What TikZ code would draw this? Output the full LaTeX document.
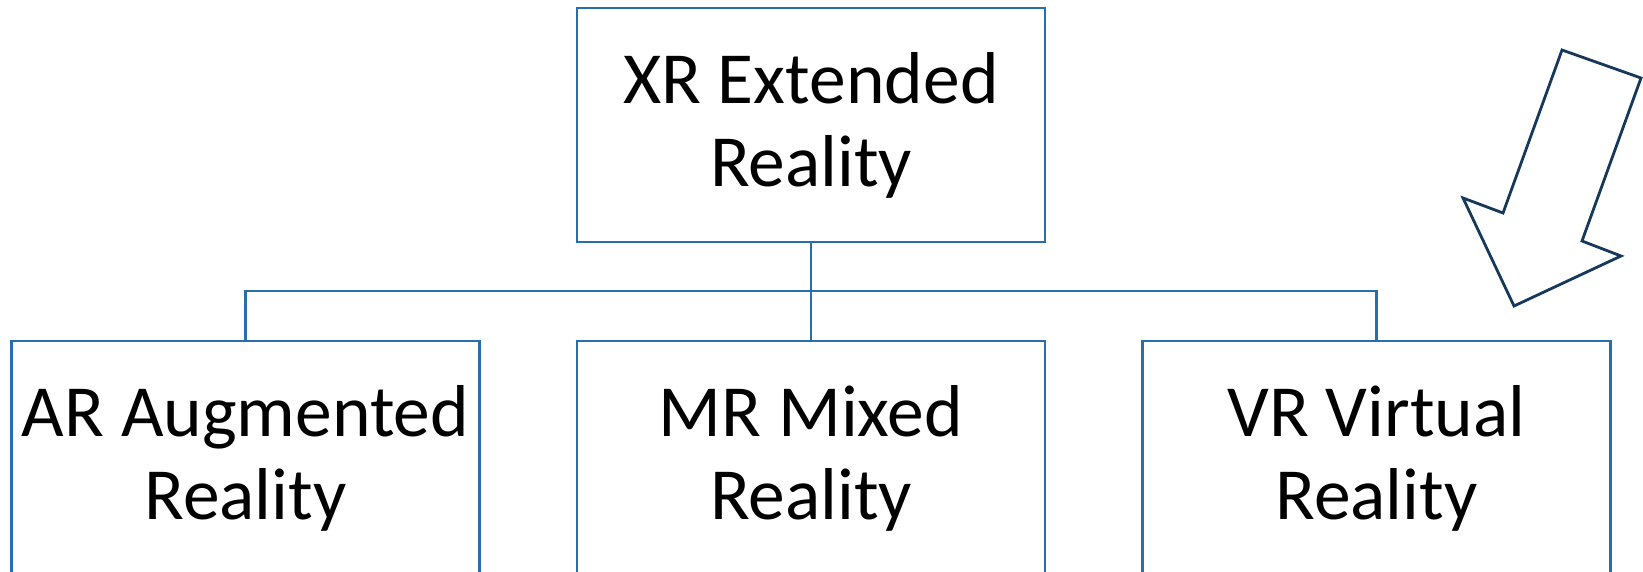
\documentclass[tikz,border=0pt]{standalone}
\usepackage{fontspec}
\setmainfont{Carlito}
\definecolor{boxblue}{RGB}{38,110,172}
\definecolor{arrownavy}{RGB}{22,56,90}
\begin{document}
\begin{tikzpicture}[x=1pt,y=-1pt,
    realitybox/.style={draw=boxblue,line width=2.8pt,minimum width=468pt,minimum height=234pt,
        align=center,font=\fontsize{73.5}{83}\selectfont,inner sep=0pt},
    tree/.style={draw=boxblue,line width=2.8pt}]
            \useasboundingbox (0,0) rectangle (1643,572);
            \clip (0,0) rectangle (1643,572);
            \node[realitybox] (xr) at (811,125) {XR Extended\\Reality};
            \node[realitybox] (ar) at (245.5,458) {AR Augmented\\Reality};
            \node[realitybox] (mr) at (811,458) {MR Mixed\\Reality};
            \node[realitybox] (vr) at (1376.5,458) {VR Virtual\\Reality};
            \coordinate (bus) at (811,291);
            \draw[tree] (xr.south) -- (mr.north);
            \draw[tree] (ar.north) |- (bus) -| (vr.north);
            \draw[arrownavy,line width=2.8pt,line join=miter]
                (1562,50) -- (1641,78) -- (1582,241) -- (1621,256) -- (1514,306)
                -- (1463,198) -- (1503,213) -- cycle;
        \end{tikzpicture}
\end{document}
